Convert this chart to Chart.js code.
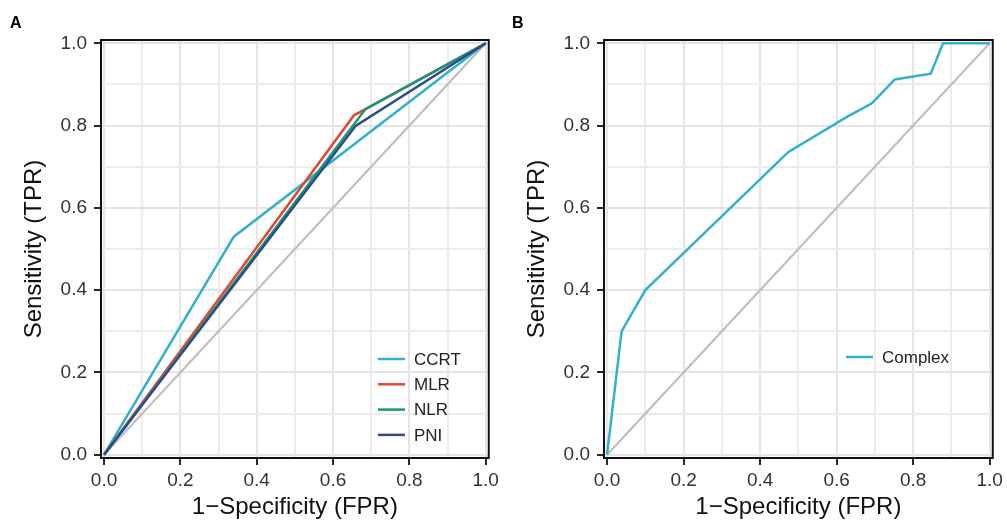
<!DOCTYPE html>
<html>
<head>
<meta charset="utf-8">
<script src="https://cdn.jsdelivr.net/npm/chart.js@4.4.1/dist/chart.umd.min.js"></script>
<style>
  html, body { margin: 0; padding: 0; background: #fff; }
  .wrap { display: flex; width: 1007px; height: 524px; }
  canvas { display: block; }
</style>
</head>
<body>
<div class="wrap">
  <canvas id="roc-a" width="503" height="524"></canvas>
  <canvas id="roc-b" width="504" height="524"></canvas>
</div>
<script>
// axis ticks (grid every 0.1, labels every 0.2)
const TICKS = [0, 0.1, 0.2, 0.3, 0.4, 0.5, 0.6, 0.7, 0.8, 0.9, 1.0];

// panel A curves
const ccrtFpr = [0, 0.34, 1];
const ccrtTpr = [0, 0.53, 1];
const mlrFpr = [0, 0.655, 0.685, 1];
const mlrTpr = [0, 0.825, 0.84, 1];
const nlrFpr = [0, 0.685, 1];
const nlrTpr = [0, 0.84, 1];
const pniFpr = [0, 0.66, 1];
const pniTpr = [0, 0.80, 1];

// panel B curve
const complexFpr = [0, 0.038, 0.10, 0.474, 0.627, 0.692, 0.752, 0.846, 0.878, 1];
const complexTpr = [0, 0.30, 0.40, 0.736, 0.821, 0.854, 0.912, 0.926, 1, 1];

// chance line
const diagFpr = [0, 1];
const diagTpr = [0, 1];

const FONT = '"Liberation Sans", Arial, Helvetica, sans-serif';
Chart.defaults.font.family = FONT;

const toPts = (xs, ys) => xs.map((x, i) => ({ x: x, y: ys[i] }));
const isMajor = v => Math.round(v * 10) % 2 === 0;

// chart.js paints low `order` last, so later curves get lower order to sit on top
function curve(label, xs, ys, color, order) {
    return { label: label, data: toPts(xs, ys), borderColor: color, backgroundColor: color, order: order,
        borderWidth: 2.5, showLine: true, pointRadius: 0, tension: 0, fill: false };
}

function diagonal() {
    return { label: '__diag', data: toPts(diagFpr, diagTpr), borderColor: '#bdbdbd', order: 99,
        borderWidth: 2, showLine: true, pointRadius: 0, tension: 0, fill: false };
}

function axisCfg(isX, title) {
    return {
        type: 'linear', min: -0.008, max: 1.008,
        afterBuildTicks: s => { s.ticks = TICKS.map(v => ({ value: v })); },
        afterFit: s => { if (isX) s.height = 66; else s.width = 101; },
        border: { display: false },
        grid: {
            color: c => (c.tick && isMajor(c.tick.value)) ? '#e4e4e4' : '#ececec',
            lineWidth: 2,
            tickLength: 7, tickWidth: 1.8,
            tickColor: c => (c.tick && isMajor(c.tick.value)) ? '#111' : 'rgba(0,0,0,0)'
        },
        ticks: {
            autoSkip: false, maxRotation: 0, padding: isX ? 4 : 7, color: '#333',
            font: { size: 19 },
            callback: v => isMajor(v) ? Number(v).toFixed(1) : ''
        },
        title: { display: true, text: title, color: '#111', font: { size: 24 },
            padding: isX ? { top: 0, bottom: 2 } : { top: 20, bottom: 0 } }
    };
}

const framePlugin = {
    id: 'frame',
    afterDatasetsDraw(chart) {
        const { ctx, chartArea: a } = chart;
        ctx.save(); ctx.strokeStyle = '#111'; ctx.lineWidth = 2;
        ctx.strokeRect(a.left, a.top, a.right - a.left, a.bottom - a.top);
        ctx.restore();
    }
};

const rocLegendPlugin = {
    id: 'rocLegend',
    afterDraw(chart, args, opts) {
        const { ctx } = chart;
        const items = chart.data.datasets.filter(d => d.label !== '__diag');
        ctx.save();
        ctx.font = '17px ' + FONT; ctx.textBaseline = 'middle'; ctx.textAlign = 'left';
        items.forEach((d, i) => {
            const y = opts.y + i * opts.gap;
            ctx.strokeStyle = d.borderColor; ctx.lineWidth = 2.5;
            ctx.beginPath(); ctx.moveTo(opts.x, y); ctx.lineTo(opts.x + 27, y); ctx.stroke();
            ctx.fillStyle = '#222'; ctx.fillText(d.label, opts.x + 36, y + 1);
        });
        if (opts.panel) {
            ctx.font = 'bold 16px ' + FONT; ctx.fillStyle = '#000'; ctx.textBaseline = 'alphabetic';
            ctx.fillText(opts.panel, opts.panelX, 28);
        }
        ctx.restore();
    }
};

function makeChart(id, datasets, legendOpts) {
    return new Chart(document.getElementById(id), {
        type: 'scatter',
        data: { datasets: datasets },
        options: {
            responsive: false, animation: false,
            layout: { padding: { top: 40, right: 12, left: 0, bottom: 0 } },
            scales: { x: axisCfg(true, '1\u2212Specificity (FPR)'), y: axisCfg(false, 'Sensitivity (TPR)') },
            plugins: { legend: { display: false }, tooltip: { enabled: false }, rocLegend: legendOpts }
        },
        plugins: [framePlugin, rocLegendPlugin]
    });
}

makeChart('roc-a', [
    diagonal(),
    curve('CCRT', ccrtFpr, ccrtTpr, '#33afcf', 4),
    curve('MLR', mlrFpr, mlrTpr, '#e2472f', 3),
    curve('NLR', nlrFpr, nlrTpr, '#17977a', 2),
    curve('PNI', pniFpr, pniTpr, '#2f4b89', 1)
], { x: 378, y: 359, gap: 25.3, panel: 'A', panelX: 10 });

makeChart('roc-b', [
    diagonal(),
    curve('Complex', complexFpr, complexTpr, '#33afcf', 1)
], { x: 343, y: 357, gap: 25, panel: 'B', panelX: 9 });
</script>
</body>
</html>
